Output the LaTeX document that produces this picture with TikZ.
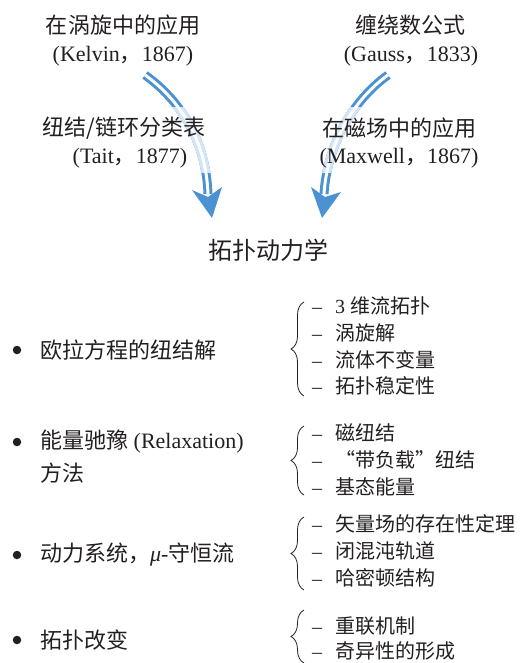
\documentclass[tikz,border=0pt]{standalone}
\usepackage{fontspec}
\setmainfont{Liberation Serif}
\newfontfamily\cjk{Noto Sans CJK SC}
\usetikzlibrary{decorations.pathreplacing}
\definecolor{arrblue}{HTML}{4A92D2}
\definecolor{arrlight}{HTML}{D2E4F5}
\definecolor{ink}{HTML}{231F20}
\newcommand{\zh}[1]{{\cjk #1}}
\newcommand{\dsh}{\makebox[23bp][l]{–}}
\begin{document}
\begin{tikzpicture}[x=1bp,y=-1bp,
  txt/.style={inner sep=0pt,text=ink,font=\fontsize{20bp}{24bp}\selectfont},
  big/.style={txt,font=\fontsize{22bp}{26bp}\selectfont},
  itm/.style={txt,anchor=west},
  litm/.style={big,anchor=west},
  bul/.style={circle,fill=ink,inner sep=0pt,minimum size=8.5bp},
  brc/.style={draw=ink,line width=0.8bp,decorate,decoration={brace,amplitude=13bp}},
  dbl/.style={draw=#1,line width=3bp,double=white,double distance=3bp},
  head/.style={fill=#1}]
\useasboundingbox (0,0) rectangle (521,663);

% arrows
\coordinate (L0) at (145,75); \coordinate (L1) at (208,194);
\coordinate (R0) at (388,75); \coordinate (R1) at (324,194);
\draw[dbl=arrblue] (L0) .. controls (180,100) and (206,140) .. (L1);
\fill[arrblue] (212,218) -- (192,190) -- (208,197) -- (222,187) -- cycle;
\draw[dbl=arrblue] (R0) .. controls (353,100) and (327,145) .. (R1);
\fill[arrblue] (322,218) -- (311,187) -- (325,197) -- (341,192) -- cycle;
\begin{scope}
\clip (0,108) rectangle (521,172);
\draw[dbl=arrlight] (L0) .. controls (180,100) and (206,140) .. (L1);
\draw[dbl=arrlight] (R0) .. controls (353,100) and (327,145) .. (R1);
\end{scope}

% top texts
\node[big] (t1) at (123,25) {\zh{在涡旋中的应用}};
\node[big] (t1b) at (123,56) {(Kelvin\zh{，}1867)};
\node[big] (t2) at (410,25) {\zh{缠绕数公式}};
\node[big] (t2b) at (411,56) {(Gauss\zh{，}1833)};
\node[big] (t3) at (124,128) {\zh{纽结/链环分类表}};
\node[big] (t3b) at (130,158) {(Tait\zh{，}1877)};
\node[big] (t4) at (399,128) {\zh{在磁场中的应用}};
\node[big] (t4b) at (399,158) {(Maxwell\zh{，}1867)};
\node[txt,font=\fontsize{24bp}{28bp}\selectfont] (title) at (268,250) {\zh{拓扑动力学}};

% left items
\node[bul] (b1) at (17,350) {};
\node[litm] (i1) at (40,350) {\zh{欧拉方程的纽结解}};
\node[bul] (b2) at (17,442) {};
\node[litm] (i2) at (40,442) {\zh{能量驰豫} (Relaxation)};
\node[litm] (i2b) at (40,473) {\zh{方法}};
\node[bul] (b3) at (17,555) {};
\node[litm] (i3) at (40,555) {\zh{动力系统，}\textit{μ}-\zh{守恒流}};
\node[bul] (b4) at (17,640) {};
\node[litm] (i4) at (40,640) {\zh{拓扑改变}};

% braces
\draw[brc] (304,396) -- (304,302);
\draw[brc] (304,495) -- (304,426);
\draw[brc] (304,590) -- (304,517);
\draw[brc] (304,663) -- (304,610);

% right items
\node[itm] (a1) at (312,306) {\dsh 3 \zh{维流拓扑}};
\node[itm] (a2) at (312,333) {\dsh\zh{涡旋解}};
\node[itm] (a3) at (312,360) {\dsh\zh{流体不变量}};
\node[itm] (a4) at (312,386) {\dsh\zh{拓扑稳定性}};
\node[itm] (c1) at (312,433) {\dsh\zh{磁纽结}};
\node[itm] (c2) at (312,460) {\dsh\zh{“带负载”纽结}};
\node[itm] (c3) at (312,487) {\dsh\zh{基态能量}};
\node[itm] (d1) at (312,524) {\dsh\zh{矢量场的存在性定理}};
\node[itm] (d2) at (312,551) {\dsh\zh{闭混沌轨道}};
\node[itm] (d3) at (312,578) {\dsh\zh{哈密顿结构}};
\node[itm] (e1) at (312,626) {\dsh\zh{重联机制}};
\node[itm] (e2) at (312,651) {\dsh\zh{奇异性的形成}};
\end{tikzpicture}
\end{document}
